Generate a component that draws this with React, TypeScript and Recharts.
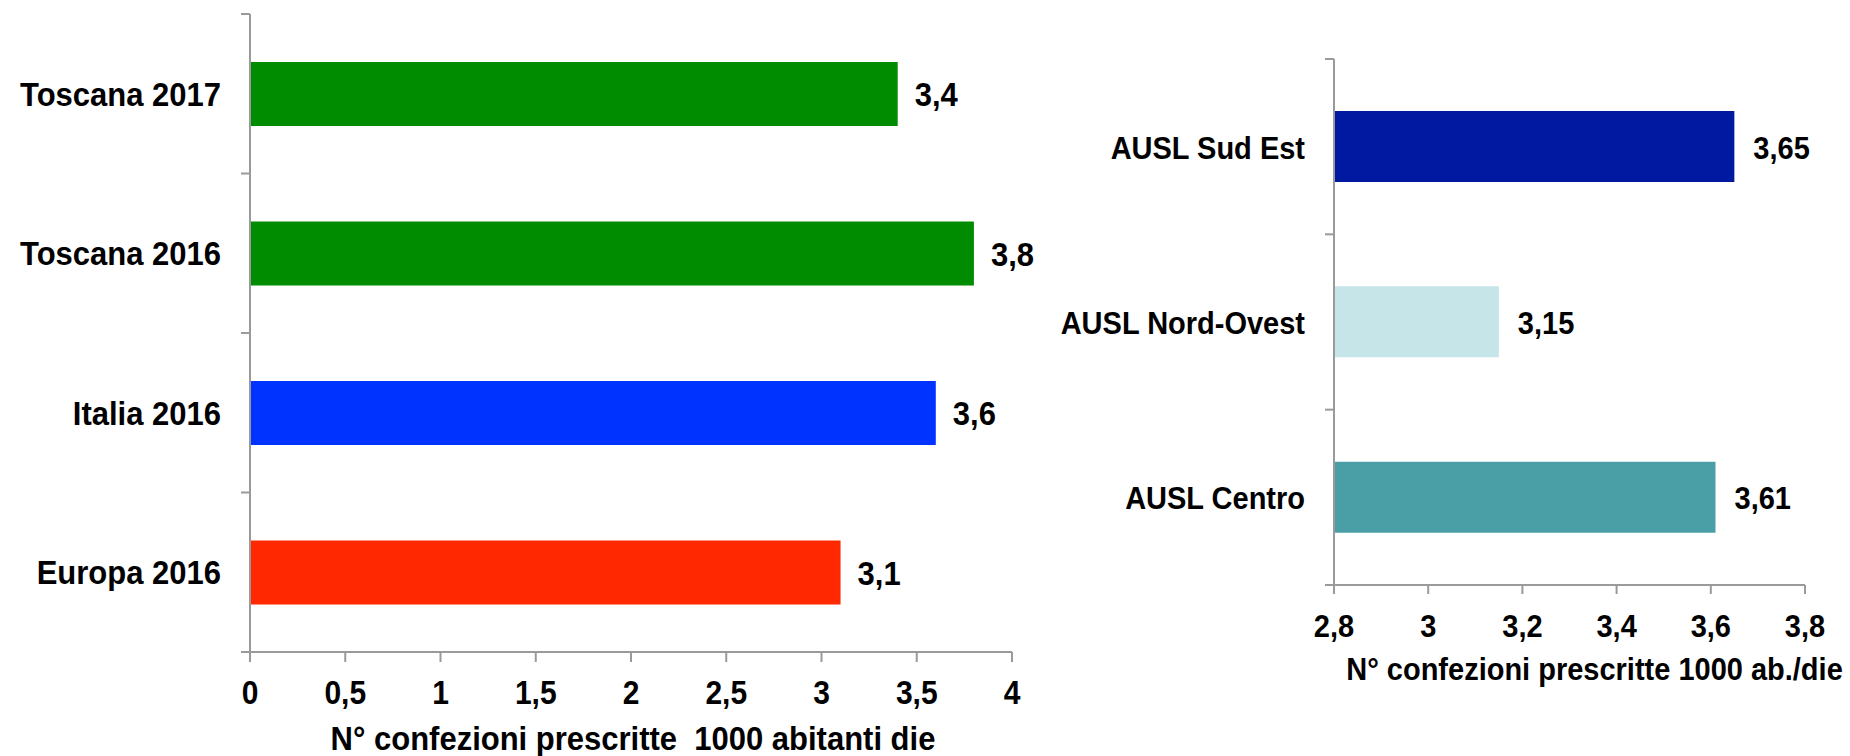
import { BarChart, Bar, XAxis, YAxis, Cell, LabelList, Label } from 'recharts';

const europeCategories = ['Toscana 2017', 'Toscana 2016', 'Italia 2016', 'Europa 2016'];
const europeValues = [3.4, 3.8, 3.6, 3.1];
const europeColors = ['#008c00', '#008c00', '#0033ff', '#ff2800'];
const europeTicks = [0, 0.5, 1, 1.5, 2, 2.5, 3, 3.5, 4];

const auslCategories = ['AUSL Sud Est', 'AUSL Nord-Ovest', 'AUSL Centro'];
const auslValues = [3.65, 3.15, 3.61];
const auslColors = ['#0019a0', '#c5e5e9', '#4a9fa6'];
const auslTicks = [2.8, 3, 3.2, 3.4, 3.6, 3.8];

const FONT = '"Liberation Sans", Arial, sans-serif';
const AXIS = '#9a9a9a';

const comma = (v: number) => String(v).replace('.', ',');

// bold black text, slightly stretched vertically like the original export
const T = ({ x, y, size, anchor = 'start', children }: any) => (
  <text
    transform={`translate(${x},${y}) scale(1,1.08)`}
    textAnchor={anchor}
    fontFamily={FONT}
    fontWeight="bold"
    fontSize={size}
    fill="#000"
    style={{ whiteSpace: 'pre' }}
  >
    {children}
  </text>
);

const makeCategoryTick = (half: number, count: number, fontSize: number) => (props: any) => {
  const { x, y, payload, index } = props;
  return (
    <g>
      <line x1={x - 9} x2={x} y1={y - half} y2={y - half} stroke={AXIS} strokeWidth={2} />
      {index === count - 1 && (
        <line x1={x - 9} x2={x} y1={y + half} y2={y + half} stroke={AXIS} strokeWidth={2} />
      )}
      <T x={x - 29} y={y + 12} size={fontSize} anchor="end">
        {payload.value}
      </T>
    </g>
  );
};

const makeValueTick = (dy: number, fontSize: number) => (props: any) => {
  const { x, y, payload } = props;
  return (
    <T x={x} y={y + dy} size={fontSize} anchor="middle">
      {comma(payload.value)}
    </T>
  );
};

const makeBarLabel = (offset: number, fontSize: number) => (props: any) => {
  const { x, y, width, height, value } = props;
  return (
    <T x={x + width + offset} y={y + height / 2 + 12} size={fontSize}>
      {comma(value)}
    </T>
  );
};

const makeTitle = (text: string, dx: number, dy: number, fontSize: number) => (props: any) => {
  const vb = props.viewBox;
  return (
    <T x={vb.x + vb.width / 2 + dx} y={vb.y + dy} size={fontSize} anchor="middle">
      {text}
    </T>
  );
};

const europeData = europeCategories.map((name, i) => ({ name, value: europeValues[i] }));
const auslData = auslCategories.map((name, i) => ({ name, value: auslValues[i] }));

export default function App() {
  return (
    <div style={{ position: 'absolute', left: 0, top: 0, width: 1850, height: 756, background: '#fff' }}>
      <div style={{ position: 'absolute', left: 0, top: 0 }}>
        <BarChart width={1060} height={756} data={europeData} layout="vertical" margin={{ top: 14, right: 48, bottom: 0, left: 0 }}>
          <XAxis
            type="number"
            domain={[0, 4]}
            ticks={europeTicks}
            interval={0}
            height={104}
            axisLine={{ stroke: AXIS, strokeWidth: 2 }}
            tickLine={{ stroke: AXIS, strokeWidth: 2 }}
            tickSize={10}
            tickMargin={0}
            tick={makeValueTick(42, 30)}
          >
            <Label content={makeTitle('N° confezioni prescritte\u00a0 1000 abitanti die', 2, 98, 31)} />
          </XAxis>
          <YAxis
            type="category"
            dataKey="name"
            width={250}
            axisLine={{ stroke: AXIS, strokeWidth: 2 }}
            tickLine={false}
            tickSize={0}
            tickMargin={0}
            interval={0}
            tick={makeCategoryTick(638 / 4 / 2, europeCategories.length, 31)}
          />
          <Bar dataKey="value" barSize={64} isAnimationActive={false}>
            {europeData.map((d, i) => (
              <Cell key={d.name} fill={europeColors[i]} />
            ))}
            <LabelList dataKey="value" content={makeBarLabel(17, 31)} />
          </Bar>
        </BarChart>
      </div>
      <div style={{ position: 'absolute', left: 1060, top: 0 }}>
        <BarChart width={790} height={756} data={auslData} layout="vertical" margin={{ top: 59, right: 45, bottom: 71, left: 0 }}>
          <XAxis
            type="number"
            domain={[2.8, 3.8]}
            ticks={auslTicks}
            interval={0}
            height={100}
            axisLine={{ stroke: AXIS, strokeWidth: 2 }}
            tickLine={{ stroke: AXIS, strokeWidth: 2 }}
            tickSize={9}
            tickMargin={0}
            tick={makeValueTick(43, 29)}
          >
            <Label content={makeTitle('N° confezioni prescritte 1000 ab./die', 25, 95, 29)} />
          </XAxis>
          <YAxis
            type="category"
            dataKey="name"
            width={274}
            axisLine={{ stroke: AXIS, strokeWidth: 2 }}
            tickLine={false}
            tickSize={0}
            tickMargin={0}
            interval={0}
            tick={makeCategoryTick(526 / 3 / 2, auslCategories.length, 29)}
          />
          <Bar dataKey="value" barSize={71} isAnimationActive={false}>
            {auslData.map((d, i) => (
              <Cell key={d.name} fill={auslColors[i]} />
            ))}
            <LabelList dataKey="value" content={makeBarLabel(19, 29)} />
          </Bar>
        </BarChart>
      </div>
    </div>
  );
}
